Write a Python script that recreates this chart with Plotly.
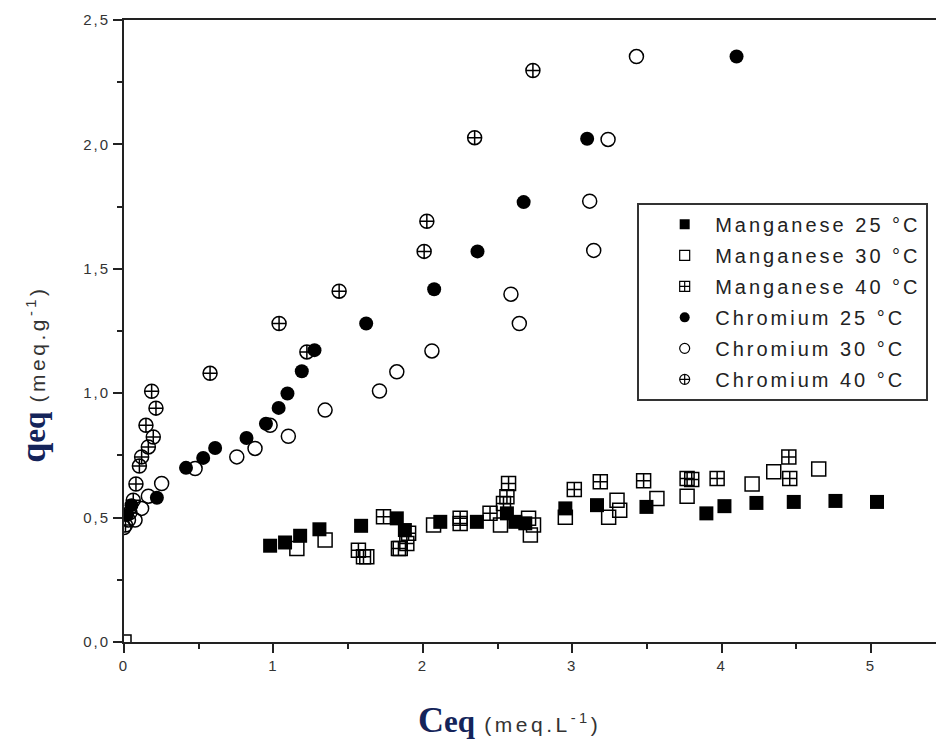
import plotly.graph_objects as go

# ---- data (C_eq in meq/L, q_eq in meq/g) ----
mn25_x = [0.978, 1.078, 1.179, 1.308, 1.587, 1.826, 1.88, 2.117, 2.362, 2.563, 2.619, 2.686, 2.954, 3.166, 3.497, 3.898, 4.019, 4.233, 4.483, 4.762, 5.04]
mn25_y = [0.387, 0.400, 0.427, 0.453, 0.467, 0.497, 0.450, 0.483, 0.483, 0.517, 0.483, 0.477, 0.537, 0.550, 0.543, 0.517, 0.546, 0.559, 0.563, 0.567, 0.563]

mn30_x = [0.0, 1.157, 1.346, 1.625, 1.849, 2.072, 2.52, 2.708, 2.741, 2.72, 2.954, 3.244, 3.318, 3.30, 3.567, 3.769, 4.204, 4.349, 4.65]
mn30_y = [0.0, 0.376, 0.410, 0.343, 0.376, 0.470, 0.470, 0.497, 0.470, 0.430, 0.501, 0.501, 0.530, 0.570, 0.577, 0.586, 0.635, 0.684, 0.695]

mn40_x = [1.569, 1.603, 1.737, 1.837, 1.893, 1.905, 2.25, 2.25, 2.45, 2.54, 2.563, 2.574, 3.014, 3.188, 3.478, 3.769, 3.80, 3.97, 4.45, 4.456]
mn40_y = [0.369, 0.343, 0.503, 0.376, 0.396, 0.437, 0.476, 0.497, 0.517, 0.557, 0.584, 0.637, 0.613, 0.644, 0.648, 0.657, 0.653, 0.657, 0.744, 0.657]

cr25_x = [0.02, 0.05, 0.22, 0.415, 0.53, 0.61, 0.82, 0.95, 1.035, 1.094, 1.19, 1.275, 1.621, 2.076, 2.366, 2.675, 3.10, 4.10]
cr25_y = [0.51, 0.55, 0.58, 0.70, 0.74, 0.78, 0.82, 0.877, 0.941, 0.999, 1.088, 1.173, 1.28, 1.418, 1.570, 1.768, 2.023, 2.353]

cr30_x = [0.0, 0.03, 0.074, 0.118, 0.163, 0.252, 0.476, 0.755, 0.877, 0.978, 1.10, 1.346, 1.71, 1.826, 2.061, 2.646, 2.59, 3.144, 3.117, 3.24, 3.43]
cr30_y = [0.46, 0.49, 0.49, 0.537, 0.586, 0.637, 0.697, 0.744, 0.778, 0.871, 0.827, 0.932, 1.009, 1.086, 1.17, 1.28, 1.398, 1.574, 1.772, 2.02, 2.353]

cr40_x = [0.01, 0.04, 0.062, 0.08, 0.103, 0.118, 0.163, 0.196, 0.147, 0.214, 0.185, 0.576, 1.038, 1.224, 1.44, 2.009, 2.027, 2.347, 2.737]
cr40_y = [0.47, 0.52, 0.57, 0.635, 0.707, 0.744, 0.784, 0.824, 0.871, 0.94, 1.008, 1.08, 1.28, 1.166, 1.41, 1.57, 1.691, 2.027, 2.297]

series_names = ["Manganese 25 °C", "Manganese 30 °C", "Manganese 40 °C",
                "Chromium 25 °C", "Chromium 30 °C", "Chromium 40 °C"]

x_tickvals = [0, 1, 2, 3, 4, 5]
x_ticktext = ["0", "1", "2", "3", "4", "5"]
y_tickvals = [0, 0.5, 1.0, 1.5, 2.0, 2.5]
y_ticktext = ["0,0", "0,5", "1,0", "1,5", "2,0", "2,5"]

series = [
    (mn25_x, mn25_y, "square", "black", 0),
    (mn30_x, mn30_y, "square-open", "black", 1.5),
    (mn40_x, mn40_y, "square-cross-open", "black", 1.5),
    (cr25_x, cr25_y, "circle", "black", 0),
    (cr30_x, cr30_y, "circle-open", "black", 1.5),
    (cr40_x, cr40_y, "circle-cross-open", "black", 1.5),
]

fig = go.Figure()
for (xs, ys, sym, col, lw), name in zip(series, series_names):
    fig.add_trace(go.Scatter(
        x=xs, y=ys, mode="markers", name=name, showlegend=False,
        marker=dict(symbol=sym, size=14, color=col, line=dict(color="black", width=lw)),
    ))
# legend entries (smaller symbols, like the original)
for i, ((xs, ys, sym, col, lw), name) in enumerate(zip(series, series_names)):
    fig.add_trace(go.Scatter(
        x=[None], y=[None], mode="markers", legendgroup=f"g{i}",
        name=f'<span style="letter-spacing:3px">{name}</span>',
        marker=dict(symbol=sym, size=10, color=col, line=dict(color="black", width=1.2 if lw else 0)),
    ))

tickfont = dict(family="Liberation Sans, Arial, sans-serif", size=15, color="#333")
x_ticktext_s = [f'<span style="letter-spacing:2px">{t}</span>' for t in x_ticktext]
y_ticktext_s = [f'<span style="letter-spacing:2px">{t}</span>' for t in y_ticktext]

fig.update_layout(
    width=936, height=747,
    margin=dict(l=124, r=0, t=20, b=105),
    paper_bgcolor="white", plot_bgcolor="white",
    showlegend=True,
    legend=dict(
        x=0.632, y=0.706, xanchor="left", yanchor="top",
        bgcolor="white", bordercolor="#333", borderwidth=2,
        font=dict(family="Liberation Sans, Arial, sans-serif", size=20, color="#222"),
        tracegroupgap=2, itemwidth=51, indentation=15,
    ),
    xaxis=dict(
        range=[0, 5.435], showgrid=False, zeroline=False,
        showline=True, linecolor="#222", linewidth=2, mirror=True,
        ticks="outside", ticklen=9, tickwidth=1.5, tickcolor="#222",
        tickvals=x_tickvals, ticktext=x_ticktext_s, tickfont=tickfont,
        minor=dict(dtick=0.5, tick0=0, ticks="outside", ticklen=5, tickwidth=1.5, tickcolor="#222"),
    ),
    yaxis=dict(
        range=[0, 2.5], showgrid=False, zeroline=False,
        showline=True, linecolor="#222", linewidth=2, mirror=False,
        ticks="outside", ticklen=9, tickwidth=1.5, tickcolor="#222",
        tickvals=y_tickvals, ticktext=y_ticktext_s, tickfont=tickfont,
        minor=dict(dtick=0.25, tick0=0, ticks="outside", ticklen=5, tickwidth=1.5, tickcolor="#222"),
    ),
    annotations=[
        dict(
            xref="paper", yref="paper", x=0.475, y=-0.125, xanchor="center", yanchor="middle",
            showarrow=False,
            font=dict(family="Liberation Serif, Times New Roman, serif", size=36, color="#14245a"),
            text='<b>C</b><span style="font-size:31px"><b>eq</b></span>'
                 '<span style="font-family:\'Liberation Sans\', Arial, sans-serif;font-size:21px;'
                 'letter-spacing:3.5px;color:#333"> (meq.L<sup>-1</sup>)</span>',
        ),
        dict(
            xref="paper", yref="paper", x=-0.113, y=0.43, xanchor="center", yanchor="middle",
            showarrow=False, textangle=-90,
            font=dict(family="Liberation Serif, Times New Roman, serif", size=36, color="#14245a"),
            text='<b>q</b><span style="font-size:31px"><b>eq</b></span>'
                 '<span style="font-family:\'Liberation Sans\', Arial, sans-serif;font-size:21px;'
                 'letter-spacing:3.5px;color:#333"> (meq.g<sup>-1</sup>)</span>',
        ),
    ],
)

fig.write_html("out.html")
